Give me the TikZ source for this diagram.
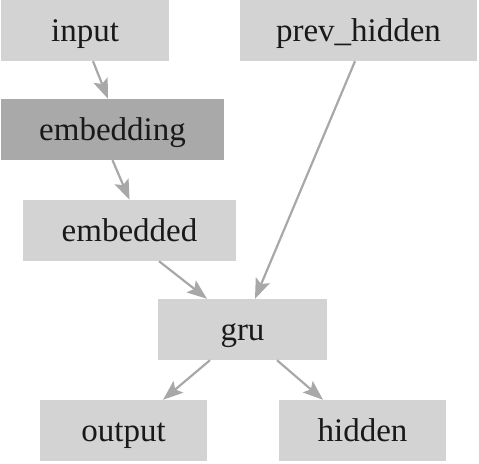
\documentclass[tikz,border=0pt]{standalone}
\usepackage{fontspec}
\setmainfont{Liberation Serif}
\usetikzlibrary{arrows.meta, calc}
\definecolor{boxgray}{HTML}{D3D3D3}
\definecolor{darkboxgray}{HTML}{A9A9A9}
\definecolor{arrowgray}{HTML}{A8A8A8}
\tikzstyle{box} = [rectangle, minimum height=61pt, inner sep=0pt, text height=25pt, text depth=2pt, text centered, fill=boxgray, text=black!90, font=\fontsize{33}{40}\selectfont]
\tikzstyle{darkbox} = [box, fill=darkboxgray]
\tikzstyle{arrow} = [line width=2.2pt, draw=arrowgray, -{Stealth[length=20pt, width=15pt, inset=4pt]}]

\begin{document}
\begin{tikzpicture}[x=1pt, y=1pt]
\useasboundingbox (0,0) rectangle (479,463);
\node (input) [box, minimum width=168pt] at (85,432.5) {input};
\node (prev hidden) [box, minimum width=237pt] at (358.5,432.5) {prev\_hidden};
\node (embedding) [darkbox, minimum width=223pt] at (112.5,333.5) {embedding};
\node (embedded) [box, minimum width=213pt] at (129.5,232.5) {embedded};
\node (gru) [box, minimum width=169pt] at (242.5,133.5) {gru};
\node (output) [box, minimum width=167pt] at (123.5,32.5) {output};
\node (hidden) [box, minimum width=167pt] at (362.5,32.5) {hidden};

\draw [arrow] ([xshift=8pt]input.south) -- ([xshift=-4.5pt]embedding.north);
\draw [arrow] (embedding.south) -- (embedded.north);
\draw [arrow] ([xshift=29.5pt]embedded.south) -- ([xshift=-35.5pt]gru.north);
\draw [arrow] ([xshift=-3.5pt]prev hidden.south) -- ([xshift=12.5pt]gru.north);
\draw [arrow] ([xshift=-32.5pt]gru.south) -- ([xshift=39.5pt]output.north);
\draw [arrow] ([xshift=34.5pt]gru.south) -- ([xshift=-39.5pt]hidden.north);

\end{tikzpicture}
\end{document}
